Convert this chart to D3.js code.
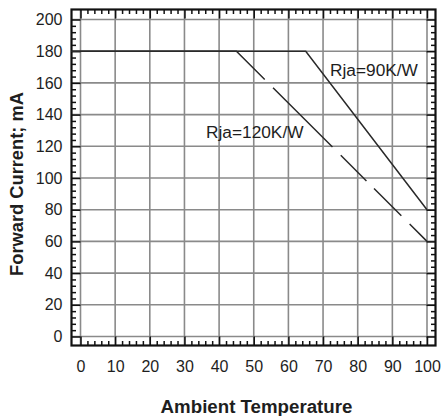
<!DOCTYPE html>
<html>
<head>
<meta charset="utf-8">
<script src="https://cdn.jsdelivr.net/npm/d3@7"></script>
<style>
  html, body { margin: 0; padding: 0; background: #fff; }
  svg { display: block; }
  text { font-family: "Liberation Sans", Arial, sans-serif; fill: #1e1e1e; }
</style>
</head>
<body>
<svg id="chart" width="443" height="416"></svg>
<script>
// ---- data ----
const xTicks = [0, 10, 20, 30, 40, 50, 60, 70, 80, 90, 100];
const yTicks = [0, 20, 40, 60, 80, 100, 120, 140, 160, 180, 200];
const seriesNames = ["Rja=90K/W", "Rja=120K/W"];
const temp90 = [-3, 65, 100];
const curr90 = [180, 180, 80];
const temp120 = [-3, 45, 100];
const curr120 = [180, 180, 60];
const xTitle = "Ambient Temperature";
const yTitle = "Forward Current; mA";

// ---- layout ----
const svg = d3.select("#chart");
const frame = { left: 71.5, right: 435.5, top: 9.5, bottom: 345.5 };
const x = d3.scaleLinear().domain([0, 100]).range([80.5, 427]);
const y = d3.scaleLinear().domain([0, 200]).range([336.5, 19.5]);

const clip = svg.append("clipPath").attr("id", "clip").append("rect")
  .attr("x", frame.left).attr("y", frame.top)
  .attr("width", frame.right - frame.left).attr("height", frame.bottom - frame.top);

// gridlines
const grid = svg.append("g").attr("stroke", "#8a8a8a").attr("stroke-width", 1.6);
grid.selectAll("line.v").data(xTicks).join("line")
  .attr("x1", d => x(d)).attr("x2", d => x(d))
  .attr("y1", frame.top).attr("y2", frame.bottom);
grid.selectAll("line.h").data(yTicks).join("line")
  .attr("x1", frame.left).attr("x2", frame.right)
  .attr("y1", d => y(d)).attr("y2", d => y(d));

// minor / major ticks on all four sides (pointing inward)
const xMinor = d3.range(0, 100.01, 2).filter(v => v % 10 !== 0);
const yMinor = d3.range(0, 200.01, 4).filter(v => v % 20 !== 0);
function tickAxis(axisFn, scale, values, size, tx, ty) {
  const g = svg.append("g").attr("transform", `translate(${tx},${ty})`)
    .call(axisFn(scale).tickValues(values).tickSize(size).tickFormat(""));
  g.select(".domain").remove();
  g.selectAll(".tick line").attr("stroke", "#111").attr("stroke-width", 1.5);
}
tickAxis(d3.axisBottom, x, xTicks, -9, 0, frame.bottom);
tickAxis(d3.axisBottom, x, xMinor, -4.5, 0, frame.bottom);
tickAxis(d3.axisTop, x, xTicks, -9, 0, frame.top);
tickAxis(d3.axisTop, x, xMinor, -4.5, 0, frame.top);
tickAxis(d3.axisLeft, y, yTicks, -9, frame.left, 0);
tickAxis(d3.axisLeft, y, yMinor, -4.5, frame.left, 0);
tickAxis(d3.axisRight, y, yTicks, -9, frame.right, 0);
tickAxis(d3.axisRight, y, yMinor, -4.5, frame.right, 0);

// frame
svg.append("rect")
  .attr("x", frame.left).attr("y", frame.top)
  .attr("width", frame.right - frame.left).attr("height", frame.bottom - frame.top)
  .attr("fill", "none").attr("stroke", "#111").attr("stroke-width", 2.2);

// tick labels
const xl = svg.append("g").attr("transform", `translate(0,${frame.bottom})`)
  .call(d3.axisBottom(x).tickValues(xTicks).tickSize(0).tickPadding(15));
xl.select(".domain").remove();
xl.selectAll("text").style("font-size", "16px").style("font-family", "Liberation Sans, Arial, sans-serif").attr("fill", "#1e1e1e");

const yl = svg.append("g").attr("transform", `translate(${frame.left},0)`)
  .call(d3.axisLeft(y).tickValues(yTicks).tickSize(0).tickPadding(9));
yl.select(".domain").remove();
yl.selectAll("text").style("font-size", "16px").style("font-family", "Liberation Sans, Arial, sans-serif").attr("fill", "#1e1e1e");

// data lines
const line = d3.line().x(d => x(d[0])).y(d => y(d[1]));
const pts90 = temp90.map((t, i) => [t, curr90[i]]);
const pts120 = temp120.map((t, i) => [t, curr120[i]]);
const plot = svg.append("g").attr("clip-path", "url(#clip)");

const flat120 = x(temp120[1]) - x(temp120[0]);
plot.append("path").datum(pts120).attr("d", line)
  .attr("fill", "none").attr("stroke", "#2a2a2a").attr("stroke-width", 1.5)
  .attr("stroke-dasharray", [flat120 + 40, 11.7, 84, 11.7, 36.3, 10.7, 38.6, 11.7, 200].join(" "));

plot.append("path").datum(pts90).attr("d", line)
  .attr("fill", "none").attr("stroke", "#2a2a2a").attr("stroke-width", 1.5);

// annotations
svg.append("text").attr("x", 330).attr("y", 76)
  .style("font-size", "17.3px").text(seriesNames[0]);
svg.append("text").attr("x", 206).attr("y", 137.5)
  .style("font-size", "17.3px").text(seriesNames[1]);

// axis titles
svg.append("text").attr("x", 256.5).attr("y", 413)
  .attr("text-anchor", "middle").style("font-size", "18.7px").style("font-weight", "bold")
  .text(xTitle);
svg.append("text").attr("transform", "translate(23,184) rotate(-90)")
  .attr("text-anchor", "middle").style("font-size", "18.3px").style("font-weight", "bold")
  .text(yTitle);
</script>
</body>
</html>
